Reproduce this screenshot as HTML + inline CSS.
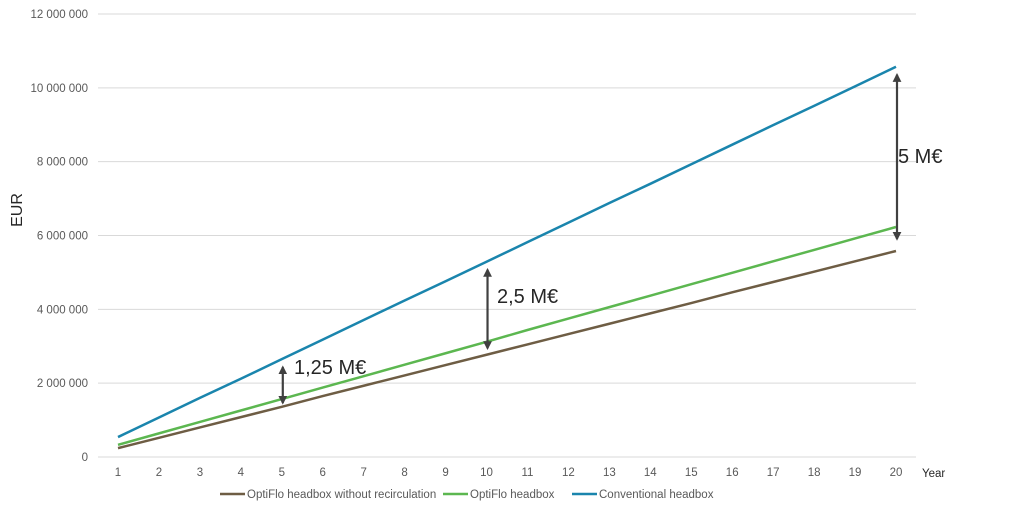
<!DOCTYPE html>
<html><head><meta charset="utf-8"><style>
html,body{margin:0;padding:0;background:#fff;}
svg{display:block;font-family:"Liberation Sans",sans-serif;}
</style></head><body>
<svg id="chart" width="1024" height="513"></svg>
<script>
const years=[1,2,3,4,5,6,7,8,9,10,11,12,13,14,15,16,17,18,19,20];
const yTicks=[0,2000000,4000000,6000000,8000000,10000000,12000000];
const yTickLabels=["0","2 000 000","4 000 000","6 000 000","8 000 000","10 000 000","12 000 000"];
const conventional=[0.54,1.07,1.60,2.12,2.65,3.18,3.71,4.24,4.76,5.29,5.82,6.35,6.88,7.40,7.93,8.46,8.99,9.51,10.04,10.57];
const optiflo=[0.33,0.64,0.95,1.26,1.57,1.88,2.19,2.50,2.81,3.12,3.44,3.75,4.06,4.37,4.68,4.99,5.30,5.61,5.92,6.23];
const optifloNoRecirc=[0.24,0.52,0.80,1.08,1.36,1.65,1.93,2.21,2.49,2.77,3.05,3.33,3.61,3.89,4.17,4.46,4.74,5.02,5.30,5.58];
const annYears=[5,10,20];
const annLabels=["1,25 M€","2,5 M€","5 M€"];

const svg=document.getElementById('chart');
const NS='http://www.w3.org/2000/svg';
function X(yr){return 118+(yr-1)*(896-118)/19;}
function Y(v){return 457-v*(457-14)/12000000;}
function mk(tag,attrs,parent){const e=document.createElementNS(NS,tag);for(const k in attrs)e.setAttribute(k,attrs[k]);(parent||svg).appendChild(e);return e;}

const defs=mk('defs',{});
const m=mk('marker',{id:'ah',viewBox:'0 0 10 10',refX:'8',refY:'5',markerWidth:'4',markerHeight:'4',orient:'auto-start-reverse'},defs);
mk('path',{d:'M0,0 L10,5 L0,10 z',fill:'#404040'},m);

yTicks.forEach((t,i)=>{
  const g=mk('line',{x1:98,x2:916,y1:Y(t),y2:Y(t),stroke:'#d9d9d9','stroke-width':1});
  
  
  const l=mk('text',{x:88,y:Y(t)+4,'text-anchor':'end','font-size':11.5,fill:'#595959'});
  l.textContent=yTickLabels[i];
  
  
});
years.forEach(yr=>{
  const l=mk('text',{x:X(yr),y:476,'text-anchor':'middle','font-size':11.5,fill:'#595959'});
  l.textContent=yr;
  
  
});
const yt=mk('text',{x:22,y:210,'text-anchor':'middle','font-size':16,fill:'#262626',transform:'rotate(-90 22 210)'});
yt.textContent='EUR';


const xt=mk('text',{x:922,y:477,'font-size':11.5,fill:'#262626'});
xt.textContent='Year';



function series(vals,color,name){
  const p=mk('polyline',{points:vals.map((v,i)=>X(years[i])+','+Y(v*1000000)).join(' '),fill:'none',stroke:color,'stroke-width':2.5});
  
  
}
series(optifloNoRecirc,'#6e5d44','line-optiflo-no-recirculation');
series(optiflo,'#5cb750','line-optiflo');
series(conventional,'#1a85ad','line-conventional');

annYears.forEach((yr,i)=>{
  const idx=years.indexOf(yr);
  const x=X(yr)+1;
  const y1=Y(conventional[idx]*1e6)+8, y2=Y((optiflo[idx]+optifloNoRecirc[idx])/2*1e6);
  const a=mk('line',{x1:x,x2:x,y1:y1,y2:y2,stroke:'#404040','stroke-width':2.2,'marker-start':'url(#ah)','marker-end':'url(#ah)'});
  
  
});
const annPos=[[294,374],[497,303],[898,163]];
annLabels.forEach((s,i)=>{
  const t=mk('text',{x:annPos[i][0],y:annPos[i][1],'font-size':20,fill:'#262626'});
  t.textContent=s;
  
  
});

const legend=[[220,'#6e5d44','OptiFlo headbox without recirculation'],[443,'#5cb750','OptiFlo headbox'],[572,'#1a85ad','Conventional headbox']];
legend.forEach(l=>{
  const g=mk('g',{});
  
  
  mk('line',{x1:l[0],x2:l[0]+25,y1:494,y2:494,stroke:l[1],'stroke-width':2.5},g);
  const t=mk('text',{x:l[0]+27,y:498,'font-size':11.5,fill:'#595959'},g);
  t.textContent=l[2];
});
</script>
</body></html>
